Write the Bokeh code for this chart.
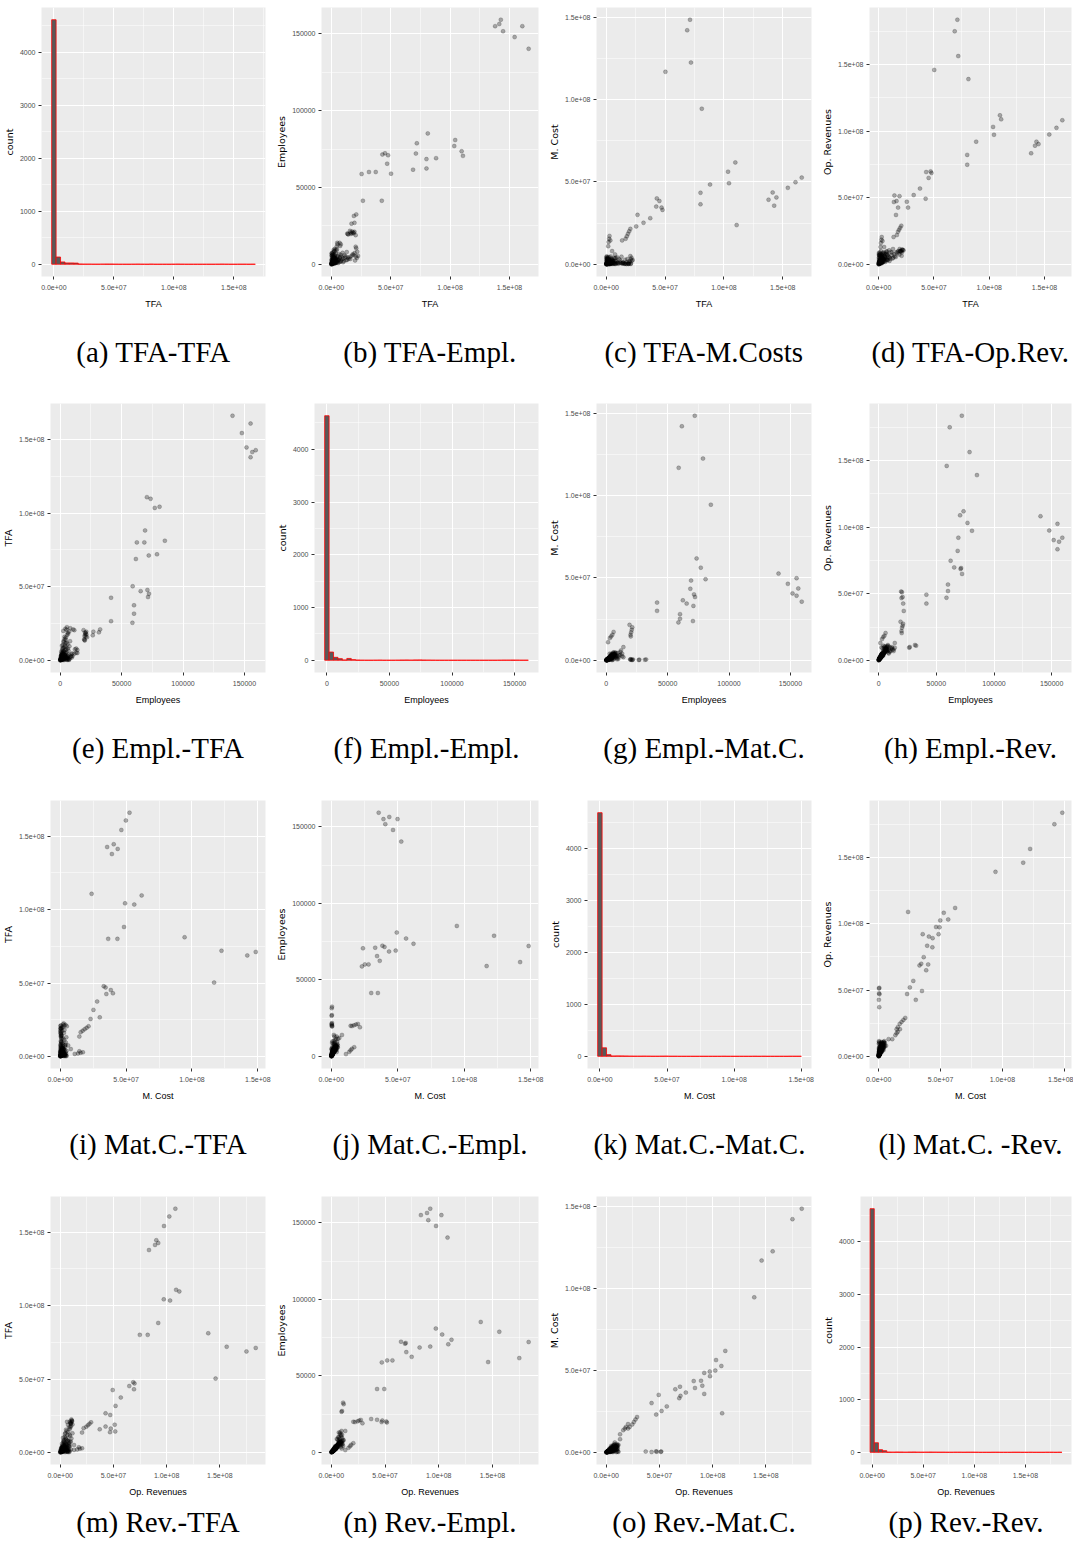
import numpy as np
from bokeh.plotting import figure
from bokeh.layouts import column, row
from bokeh.models import FixedTicker, Title, Range1d
from bokeh.embed import file_html
from bokeh.resources import INLINE

# ---------------- data (TFA, M.Cost, Op.Revenues in millions; Employees in persons) ----------------
# large firms
tfa_big = [25.5, 26.6, 31.7, 37.4, 42.5, 43.0, 45.2, 47.0, 47.8, 50.3, 68.8, 71.2, 72.0, 80.1, 80.1, 81.2, 88.2,
           103.5, 104.3, 109.7, 110.8, 137.9, 141.4, 142.7, 144.6, 154.3, 160.8, 166.1]
empl_big = [58800, 41400, 60100, 60100, 41400, 71500, 72300, 65500, 71000, 59000, 61600, 72100, 78800, 68500, 62400,
            85200, 69100, 77000, 80900, 73600, 70600, 155000, 156400, 159200, 151700, 147900, 155000, 140300]
mc_big = [23.0, 30.0, 25.2, 28.0, 35.0, 40.0, 38.4, 34.4, 33.0, 116.8, 142.0, 148.4, 122.4, 43.4, 36.4, 94.4, 48.4,
          56.2, 49.2, 61.8, 23.8, 39.2, 43.6, 35.6, 40.6, 46.4, 49.8, 52.6]
or_big = [47.0, 42.6, 52.0, 56.9, 49.3, 69.3, 64.9, 69.8, 68.6, 146.0, 175.0, 183.7, 156.4, 82.2, 74.8, 139.1, 92.1,
          103.2, 97.3, 111.9, 108.9, 83.4, 89.1, 92.1, 90.3, 97.5, 102.5, 108.2]

# medium firms
tfa_mid = [14.3, 18.9, 16.2, 13.8, 17.6, 15.7, 16.5, 17.5, 18.5, 19.5, 20.5, 13.5, 1.7, 2.0, 2.5, 2.8, 3.5,
           21.0, 19.0, 19.5, 17.0, 21.0, 20.5, 7.5, 8.0, 5.0]
empl_mid = [19500, 20200, 20800, 19800, 21300, 21800, 19800, 20300, 20800, 21200, 19000, 20000, 1500, 3000, 5000,
            6000, 4000, 32500, 31500, 27000, 26500, 10500, 11500, 12000, 13000, 14000]
mc_mid = [0.5, 0.3, 0.4, 0.6, 0.2, 0.5, 15.5, 17.0, 18.5, 20.0, 21.5, 14.5, 11.0, 13.5, 15.5, 17.2, 14.5,
          0.5, 0.3, 0.4, 0.2, 3.0, 5.0, 6.0, 4.0, 8.0]
or_mid = [51.7, 51.2, 47.5, 46.8, 42.6, 37.1, 22.0, 24.5, 26.0, 27.5, 29.0, 20.5, 13.0, 16.0, 18.5, 20.5, 17.5,
          11.0, 11.5, 10.0, 9.5, 9.0, 10.0, 8.0, 7.0, 13.0]

# dense cluster of small firms
tfa_small = [0.2, 0.5, 0.8, 1.0, 1.2, 1.5, 0.3, 0.6, 1.8, 2.0, 2.5, 0.9, 1.4, 2.2, 3.0, 3.5, 0.4, 1.1, 2.8, 4.0,
             4.5, 5.0, 1.6, 3.2, 0.7, 2.4, 5.5, 6.0, 6.5, 0.5, 1.3, 3.8, 2.6, 4.2, 3.0, 4.5, 5.2, 7.0, 7.5, 8.0,
             8.8, 9.5, 10.0, 11.0, 12.0, 13.0, 14.0, 0.1, 0.15, 0.35, 0.25, 0.45, 0.8, 1.9, 2.3, 0.6, 1.7, 3.4, 4.8, 5.8,
             0.2, 0.3, 1.0, 2.0, 16.0, 18.0, 20.0, 21.5, 22.5, 0.9, 1.3, 2.7, 3.6, 0.4, 0.7, 1.5, 0.55, 1.2, 2.1, 0.05,
             5.2, 6.4, 7.8, 9.0, 10.5, 11.8, 13.2, 14.6, 15.5, 17.2, 18.8, 19.6, 20.8, 21.8, 3.1, 4.1, 5.9, 6.9, 8.4, 9.9,
             12.5, 2.2, 3.3, 4.4, 1.1, 0.8, 1.9, 2.9, 0.4, 0.9, 1.6, 2.4, 3.9, 5.4, 7.2, 0.6, 1.4, 0.3, 2.6, 4.7]
empl_small = [150, 300, 500, 800, 1000, 1200, 600, 900, 1500, 2000, 1800, 2500, 3000, 2800, 2200, 3500, 3200, 4000,
              4200, 3800, 2600, 4500, 5000, 5500, 6000, 6500, 5200, 3000, 6800, 7200, 7800, 7000, 8500, 9000, 10000,
              11500, 13000, 14000, 5000, 6200, 4800, 7500, 3800, 6000, 5200, 8000, 4500, 50, 200, 400, 1300, 1600,
              2100, 2400, 3600, 4400, 4800, 1500, 1900, 2500, 2800, 5800, 6600, 9500, 3500, 6500, 2500, 4200, 5500,
              350, 650, 950, 1100, 700, 1400, 1700, 2300, 3300, 3900, 100,
              1200, 2600, 1800, 3400, 2100, 4300, 2900, 3600, 4700, 5600, 6100, 7400, 5100, 8200, 700, 1100, 900, 1600,
              2300, 1400, 2700, 400, 800, 1300, 250, 450, 750, 1050, 550, 1250, 1850, 2250, 2950, 3700, 4100, 5300,
              6300, 7100, 8800, 9800]
mc_small = [0.1, 0.2, 0.3, 0.5, 0.4, 0.8, 0.6, 1.0, 0.6, 1.2, 0.9, 1.5, 2.0, 1.1, 0.7, 1.8, 2.5, 3.0, 2.2, 1.5,
            0.8, 2.8, 3.5, 4.0, 4.5, 3.2, 2.0, 1.0, 3.8, 2.5, 3.0, 4.8, 1.4, 2.6, 1.8, 3.3, 2.4, 1.9, 3.6, 2.1,
            1.6, 4.2, 0.9, 3.0, 2.3, 4.6, 1.2, 0.05, 0.2, 0.15, 0.7, 1.1, 0.9, 1.6, 2.7, 3.4, 2.9, 0.5, 1.3, 1.7,
            4.0, 4.8, 3.9, 4.4, 2.8, 3.2, 1.5, 4.0, 2.6, 0.25, 0.35, 0.55, 0.75, 0.45, 0.65, 1.0, 1.9, 1.25, 2.4, 0.02,
            0.3, 0.6, 0.2, 0.8, 0.4, 1.1, 0.5, 0.9, 0.3, 1.4, 0.7, 1.8, 0.2, 2.2, 0.15, 0.35, 0.25, 0.55, 0.45, 0.65,
            0.85, 0.08, 0.12, 0.3, 0.05, 0.1, 0.2, 0.28, 0.4, 0.6, 0.9, 1.3, 1.6, 2.1, 0.35, 1.7, 2.9, 3.3, 0.6, 0.8]
or_small = [0.3, 0.6, 0.9, 1.2, 1.5, 1.8, 1.0, 1.6, 2.0, 2.5, 2.2, 2.8, 3.2, 3.0, 2.6, 4.0, 3.5, 4.5, 5.0, 4.2,
            3.3, 5.5, 6.0, 6.5, 7.0, 7.5, 6.2, 4.8, 8.0, 6.8, 7.2, 8.5, 5.8, 7.8, 6.6, 9.0, 8.2, 9.5, 9.8, 7.0,
            6.0, 10.5, 5.2, 9.2, 8.8, 11.5, 7.5, 0.1, 0.4, 0.5, 1.4, 2.0, 1.8, 3.5, 4.4, 5.2, 5.8, 2.0, 3.8, 4.6,
            4.8, 7.6, 8.8, 10.0, 9.0, 10.0, 9.6, 11.0, 10.5, 0.7, 1.1, 1.7, 2.3, 0.9, 1.3, 2.4, 2.7, 3.0, 4.1, 0.05,
            2.4, 3.8, 3.1, 5.2, 4.1, 6.8, 4.9, 6.1, 5.5, 8.4, 7.3, 9.9, 6.4, 10.8, 1.3, 2.0, 1.7, 2.9, 3.4, 2.6,
            4.4, 0.6, 1.1, 1.9, 0.35, 0.55, 0.85, 1.25, 1.6, 2.2, 3.1, 3.9, 4.6, 5.6, 3.7, 6.3, 7.9, 8.6, 5.1, 6.9]

# histogram counts (46 bins each, first bin centred on 0)
hist_tfa = [4610, 137, 44, 25, 25, 22, 4, 2, 2, 1, 1, 2, 3, 3, 1, 0, 0, 0, 1, 2, 1, 0, 2, 0, 0, 0, 0, 1, 2, 1,
            0, 0, 0, 0, 0, 0, 0, 1, 2, 1, 0, 0, 1, 1, 0, 1]
hist_empl = [4637, 156, 56, 31, 6, 35, 12, 3, 1, 0, 0, 1, 2, 0, 0, 0, 1, 3, 4, 2, 5, 6, 3, 2, 1, 0, 0, 0, 0, 0,
             0, 0, 0, 0, 0, 0, 0, 0, 0, 1, 2, 2, 3, 2, 1, 1]
hist_mc = [4690, 164, 32, 6, 8, 7, 5, 3, 2, 2, 3, 2, 1, 1, 2, 3, 1, 1, 0, 0, 0, 0, 0, 0, 0, 0, 0, 0, 1, 0,
           0, 0, 0, 0, 0, 1, 0, 1, 0, 0, 0, 0, 0, 1, 1, 1]
hist_or = [4627, 182, 50, 31, 4, 3, 5, 4, 2, 4, 5, 3, 2, 3, 4, 3, 2, 2, 1, 1, 2, 2, 1, 2, 2, 1, 0, 0, 0, 1,
           1, 0, 0, 0, 1, 1, 0, 0, 1, 0, 0, 0, 1, 1, 0, 1]

money_ticks = [0, 5e7, 1e8, 1.5e8]
money_labels = ["0.0e+00", "5.0e+07", "1.0e+08", "1.5e+08"]
money_minor = [2.5e7, 7.5e7, 1.25e8, 1.75e8]
empl_ticks = [0, 50000, 100000, 150000]
empl_labels = ["0", "50000", "100000", "150000"]
empl_minor = [25000, 75000, 125000, 175000]
count_ticks = [0, 1000, 2000, 3000, 4000]
count_labels = ["0", "1000", "2000", "3000", "4000"]
count_minor = [500, 1500, 2500, 3500, 4500]

captions = [
    ["(a) TFA-TFA", "(b) TFA-Empl.", "(c) TFA-M.Costs", "(d) TFA-Op.Rev."],
    ["(e) Empl.-TFA", "(f) Empl.-Empl.", "(g) Empl.-Mat.C.", "(h) Empl.-Rev."],
    ["(i) Mat.C.-TFA", "(j) Mat.C.-Empl.", "(k) Mat.C.-Mat.C.", "(l) Mat.C. -Rev."],
    ["(m) Rev.-TFA", "(n) Rev.-Empl.", "(o) Rev.-Mat.C.", "(p) Rev.-Rev."],
]

# ---------------- assemble variables ----------------
M = 1e6
VARS = [
    dict(vals=np.array(tfa_big + tfa_mid + tfa_small) * M, xlab="TFA", ylab="TFA",
         ticks=money_ticks, labels=money_labels, minor=money_minor, hist=hist_tfa),
    dict(vals=np.array(empl_big + empl_mid + empl_small, dtype=float), xlab="Employees", ylab="Employees",
         ticks=empl_ticks, labels=empl_labels, minor=empl_minor, hist=hist_empl),
    dict(vals=np.array(mc_big + mc_mid + mc_small) * M, xlab="M. Cost", ylab="M. Cost",
         ticks=money_ticks, labels=money_labels, minor=money_minor, hist=hist_mc),
    dict(vals=np.array(or_big + or_mid + or_small) * M, xlab="Op. Revenues", ylab="Op. Revenues",
         ticks=money_ticks, labels=money_labels, minor=money_minor, hist=hist_or),
]

NARROW = "'Liberation Sans Narrow', 'Arial Narrow', 'Liberation Sans', sans-serif"
WIDE = "'DejaVu Sans', sans-serif"
SERIF = "'Liberation Serif', 'DejaVu Serif', serif"

COL_W = [273, 273, 273, 254]
COL_R = [8, 8, 8, 2]
ROW_H = [396, 396, 396, 356]
ROW_T = [7, 7, 8, 8]
ROW_F = [269, 269, 268, 268]
ROW_S = [45, 45, 45, 8]


def expand(lo, hi, f=0.05):
    s = hi - lo
    return lo - f * s, hi + f * s


def set_axis(ax, rng, ticks, labels, minor, title, title_font, title_size, lab_standoff, tick_standoff):
    lo, hi = rng
    tk = [t for t in ticks if lo <= t <= hi]
    mn = [t for t in minor if lo <= t <= hi]
    ax.ticker = FixedTicker(ticks=tk, minor_ticks=mn)
    ax.major_label_overrides = {float(t): l for t, l in zip(ticks, labels) if lo <= t <= hi}
    ax.axis_label = title
    ax.axis_label_text_font = title_font
    ax.axis_label_text_font_size = title_size
    ax.axis_label_text_font_style = "normal"
    ax.axis_label_text_color = "black"
    ax.axis_label_standoff = lab_standoff
    ax.major_label_text_font = NARROW
    ax.major_label_text_font_size = "7px"
    ax.major_label_text_color = "#4D4D4D"
    ax.major_label_standoff = tick_standoff
    ax.major_tick_out = 3
    ax.major_tick_in = 0
    ax.major_tick_line_color = "#333333"
    ax.major_tick_line_width = 1
    ax.minor_tick_line_color = None
    ax.axis_line_color = None


rows = []
for i in range(4):
    figs = []
    for j in range(4):
        xv = VARS[i]
        yv = VARS[j]
        h = ROW_H[i]
        top = ROW_T[i]
        bottom = h - top - ROW_F[i]
        if i == j:
            counts = np.array(xv["hist"], dtype=float)
            w = xv["vals"].max() / 45.0
            centers = np.arange(len(counts)) * w
            left = centers - w / 2
            right = centers + w / 2
            xr = expand(left.min(), right.max())
            yr = expand(0, counts.max())
        else:
            xr = expand(xv["vals"].min(), xv["vals"].max())
            yr = expand(yv["vals"].min(), yv["vals"].max())
        p = figure(width=COL_W[j], height=h, output_backend="svg", toolbar_location=None, tools="",
                   x_range=Range1d(*xr), y_range=Range1d(*yr),
                   min_border_left=0, min_border_right=COL_R[j], min_border_top=top, min_border_bottom=bottom)
        p.background_fill_color = "#EBEBEB"
        p.border_fill_color = "white"
        p.outline_line_color = None
        for g in (p.xgrid[0], p.ygrid[0]):
            g.grid_line_color = "white"
            g.grid_line_width = 1.1
            g.minor_grid_line_color = "white"
            g.minor_grid_line_width = 0.5

        set_axis(p.xaxis[0], xr, xv["ticks"], xv["labels"], xv["minor"], xv["xlab"], NARROW, "9px", 6, 4)
        if i == j:
            set_axis(p.yaxis[0], yr, count_ticks, count_labels, count_minor, "count", WIDE, "9.5px", 2, 2)
            p.quad(left=left, right=right, bottom=0, top=counts, fill_color="#595959",
                   line_color="red", line_width=0.8)
        else:
            set_axis(p.yaxis[0], yr, yv["ticks"], yv["labels"], yv["minor"], yv["ylab"], WIDE, "9.5px", 2, 2)
            p.scatter(x=xv["vals"], y=yv["vals"], size=4, marker="circle",
                      fill_color="black", fill_alpha=0.3, line_color="black", line_alpha=0.3, line_width=0.6)

        cap = Title(text=captions[i][j], align="center", text_font=SERIF, text_font_size="29px",
                    text_font_style="normal", text_color="black", standoff=ROW_S[i])
        p.add_layout(cap, "below")
        figs.append(p)
    rows.append(row(*figs))

layout = column(*rows)
open("out.html", "w").write(file_html(layout, INLINE))
